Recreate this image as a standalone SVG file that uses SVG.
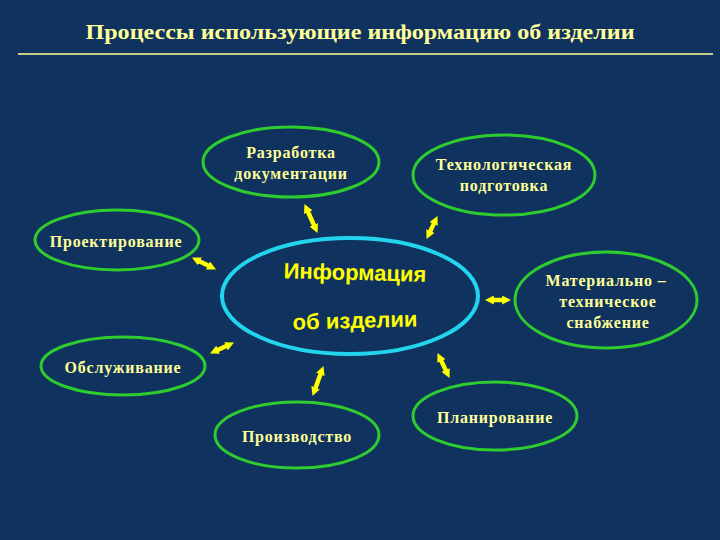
<svg xmlns="http://www.w3.org/2000/svg" width="720" height="540" viewBox="0 0 720 540">
<defs>
<style>
.node{fill:none;stroke:#2ecc2e;stroke-width:3}
.lbl{font-family:"Liberation Serif","Times New Roman",serif;font-weight:bold;font-size:16px;fill:#ffff99;text-anchor:middle;letter-spacing:0.8px}
.conn{stroke:#ffff00;stroke-width:4.5;marker-start:url(#ah);marker-end:url(#ah)}
.center{font-family:"Liberation Sans",Arial,sans-serif;font-weight:bold;font-size:22px;fill:#ffff00;text-anchor:middle}
</style>
<marker id="ah" viewBox="0 0 10 10" refX="2" refY="5" markerWidth="2" markerHeight="2" orient="auto-start-reverse" markerUnits="strokeWidth">
<path d="M0,0 L10,5 L0,10 z" fill="#ffff00"/>
</marker>
</defs>
<rect width="720" height="540" fill="#10325e"/>
<g id="title">
<text x="360" y="39" font-family="'Liberation Serif','Times New Roman',serif" font-weight="bold" font-size="22" fill="#ffff99" text-anchor="middle" textLength="549" lengthAdjust="spacingAndGlyphs">Процессы использующие информацию об изделии</text>
<line x1="18" y1="54" x2="713" y2="54" stroke="#ffff99" stroke-width="1.5"/>
</g>
<g id="connectors">
<line class="conn" x1="307.4" y1="210.5" x2="314.6" y2="226.5"/>
<line class="conn" x1="434.4" y1="222.4" x2="429.6" y2="232.6"/>
<line class="conn" x1="198.4" y1="260.7" x2="209.6" y2="266.3"/>
<line class="conn" x1="227.5" y1="345.5" x2="216.5" y2="350.5"/>
<line class="conn" x1="492" y1="300" x2="504" y2="300"/>
<line class="conn" x1="321" y1="372.7" x2="315" y2="389.3"/>
<line class="conn" x1="440.6" y1="359.4" x2="446.4" y2="371.6"/>
</g>
<g id="info">
<ellipse cx="350" cy="296" rx="128" ry="58" fill="none" stroke="#22d4ee" stroke-width="4"/>
<text class="center" x="355" y="280" transform="rotate(1.5 355 272)">Информация</text>
<text class="center" x="355" y="328" transform="rotate(-1.5 355 320)">об изделии</text>
</g>
<g id="razrabotka">
<ellipse class="node" cx="291" cy="162" rx="88" ry="35"/>
<text class="lbl" x="291" y="158">Разработка</text>
<text class="lbl" x="291" y="179">документации</text>
</g>
<g id="tekhnolog">
<ellipse class="node" cx="504" cy="175" rx="91" ry="40"/>
<text class="lbl" x="504" y="170">Технологическая</text>
<text class="lbl" x="504" y="191">подготовка</text>
</g>
<g id="proektirovanie">
<ellipse class="node" cx="117" cy="240" rx="82" ry="30"/>
<text class="lbl" x="116" y="247">Проектирование</text>
</g>
<g id="obsluzhivanie">
<ellipse class="node" cx="123" cy="366" rx="82" ry="29"/>
<text class="lbl" x="123" y="373">Обслуживание</text>
</g>
<g id="material">
<ellipse class="node" cx="606" cy="300" rx="91" ry="48"/>
<text class="lbl" x="606" y="286">Материально –</text>
<text class="lbl" x="608" y="307">техническое</text>
<text class="lbl" x="608" y="328">снабжение</text>
</g>
<g id="proizvodstvo">
<ellipse class="node" cx="297" cy="435" rx="82" ry="33"/>
<text class="lbl" x="297" y="442">Производство</text>
</g>
<g id="planirovanie">
<ellipse class="node" cx="495" cy="416" rx="82" ry="34"/>
<text class="lbl" x="495" y="423">Планирование</text>
</g>
</svg>
